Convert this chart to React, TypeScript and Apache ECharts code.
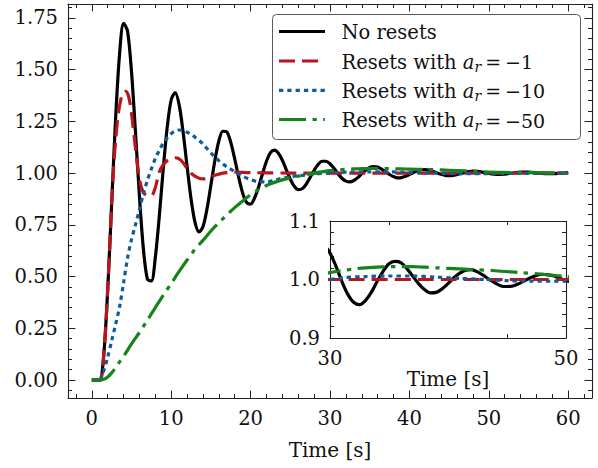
import React, { useEffect, useRef } from 'react';
import * as echarts from 'echarts';

const FONT = "'DejaVu Serif', serif";
const INK = '#111111';
const AXIS = '#222222';
const BLACK = '#000000';
const RED = '#b8161c';
const BLUE = '#0d5c9c';
const GREEN = '#15841a';

// ---------------- data ----------------
const blackT = [0, 0.5, 1, 1.5, 2, 2.5, 3, 3.5, 4, 4.5, 5, 5.5, 6, 6.5, 7, 7.5, 8, 8.5, 9, 9.5, 10, 10.5, 11, 11.5, 12, 12.5, 13, 13.5, 14, 14.5, 15, 15.5, 16, 16.5, 17, 17.5, 18, 18.5, 19, 19.5, 20, 20.5, 21, 21.5, 22, 22.5, 23, 23.5, 24, 24.5, 25, 25.5, 26, 26.5, 27, 27.5, 28, 28.5, 29, 29.5, 30, 30.5, 31, 31.5, 32, 32.5, 33, 33.5, 34, 34.5, 35, 35.5, 36, 36.5, 37, 37.5, 38, 38.5, 39, 39.5, 40, 40.5, 41, 41.5, 42, 42.5, 43, 43.5, 44, 44.5, 45, 45.5, 46, 46.5, 47, 47.5, 48, 48.5, 49, 49.5, 50, 51, 52, 53, 54, 55, 56, 57, 58, 59, 60];
const blackY = [0, 0, 0, 0.12, 0.435, 0.853, 1.266, 1.577, 1.723, 1.685, 1.489, 1.197, 0.886, 0.632, 0.488, 0.479, 0.593, 0.792, 1.021, 1.223, 1.354, 1.389, 1.329, 1.197, 1.032, 0.875, 0.762, 0.716, 0.741, 0.825, 0.942, 1.061, 1.155, 1.202, 1.199, 1.148, 1.068, 0.979, 0.903, 0.858, 0.85, 0.88, 0.932, 0.997, 1.057, 1.099, 1.111, 1.096, 1.062, 1.015, 0.97, 0.936, 0.92, 0.924, 0.946, 0.979, 1.013, 1.041, 1.057, 1.057, 1.045, 1.023, 0.997, 0.975, 0.961, 0.957, 0.964, 0.978, 0.997, 1.014, 1.027, 1.031, 1.029, 1.019, 1.006, 0.993, 0.983, 0.977, 0.978, 0.984, 0.993, 1.003, 1.011, 1.016, 1.017, 1.013, 1.007, 1.0, 0.994, 0.989, 0.988, 0.989, 0.993, 0.998, 1.003, 1.007, 1.009, 1.008, 1.006, 1.002, 0.998, 0.994, 0.995, 1.0, 1.004, 1.004, 1.0, 0.997, 0.997, 0.999, 1.002];

const redT = [0, 1, 1.5, 2, 2.5, 2.75, 3, 3.25, 3.5, 3.75, 4, 4.25, 4.5, 4.75, 5, 5.5, 6, 6.5, 7, 7.5, 8, 8.5, 9, 9.5, 10, 10.5, 11, 11.5, 12, 12.5, 13, 13.5, 14, 14.5, 15, 16, 17, 18, 19, 20, 22, 25, 30, 40, 50, 60];
const redY = [0, 0, 0.12, 0.435, 0.853, 1.03, 1.16, 1.26, 1.325, 1.37, 1.39, 1.395, 1.385, 1.35, 1.29, 1.12, 0.97, 0.905, 0.893, 0.89, 0.93, 1.005, 1.04, 1.06, 1.07, 1.074, 1.068, 1.05, 1.022, 1.0, 0.985, 0.975, 0.972, 0.975, 0.983, 0.995, 1.002, 1.004, 1.003, 1.002, 1.001, 1.0, 1.0, 1.0, 1.0, 1.0];

const blueT = [0, 1, 1.2, 1.5, 2, 2.5, 3, 3.5, 4, 4.5, 5, 5.5, 6, 6.5, 7, 7.5, 8, 8.5, 9, 9.5, 10, 10.5, 11, 11.5, 12, 12.5, 13, 14, 15, 16, 17, 18, 19, 20, 21, 22, 23, 24, 25, 26, 27, 28, 29, 30, 31, 33, 35, 37, 39, 41, 43, 45, 47, 50, 53, 56, 60];
const blueY = [0, 0, 0.015, 0.045, 0.11, 0.19, 0.27, 0.355, 0.47, 0.59, 0.68, 0.75, 0.825, 0.9, 0.965, 1.02, 1.07, 1.11, 1.145, 1.17, 1.19, 1.203, 1.208, 1.205, 1.197, 1.187, 1.173, 1.14, 1.097, 1.06, 1.03, 1.008, 0.985, 0.968, 0.958, 0.957, 0.965, 0.975, 0.982, 0.987, 0.991, 0.995, 0.998, 1.0, 1.003, 1.005, 1.006, 1.006, 1.004, 1.002, 1.0, 0.998, 0.997, 0.997, 0.998, 0.999, 1.0];

const greenT = [0, 1, 1.5, 2, 2.5, 3, 3.5, 4, 5, 6, 7, 8, 9, 10, 11, 12, 13, 14, 15, 16, 17, 18, 19, 20, 21, 22, 23, 24, 25, 26, 27, 28, 29, 30, 31, 32, 33, 34, 35, 36, 37, 38, 39, 40, 42, 44, 46, 48, 50, 52, 55, 58, 60];
const greenY = [0, 0, 0.004, 0.015, 0.035, 0.06, 0.088, 0.115, 0.175, 0.23, 0.29, 0.35, 0.41, 0.467, 0.525, 0.58, 0.632, 0.675, 0.72, 0.76, 0.798, 0.833, 0.865, 0.895, 0.92, 0.94, 0.955, 0.967, 0.977, 0.985, 0.993, 1.0, 1.006, 1.012, 1.015, 1.018, 1.02, 1.021, 1.022, 1.022, 1.022, 1.021, 1.02, 1.019, 1.017, 1.015, 1.012, 1.009, 1.005, 1.003, 1.002, 1.001, 1.0];

const seriesNames = ['No resets', 'Resets with a_r = −1', 'Resets with a_r = −10', 'Resets with a_r = −50'];
const legendRich = [
  'No resets',
  'Resets with {i|a}{s|r}{e|=}{n|−1}',
  'Resets with {i|a}{s|r}{e|=}{n|−10}',
  'Resets with {i|a}{s|r}{e|=}{n|−50}',
];

// tick labels
const xMajorTicks = [0, 10, 20, 30, 40, 50, 60];
const yMajorTicks = [0, 0.25, 0.5, 0.75, 1.0, 1.25, 1.5, 1.75];
const insetXTicks = [30, 50];
const insetYTicks = [0.9, 1.0, 1.1];
const xTitle = 'Time [s]';

const pairs = (t: number[], y: number[]) => t.map((v, i) => [v, y[i]]);
const seriesData = [pairs(blackT, blackY), pairs(redT, redY), pairs(blueT, blueY), pairs(greenT, greenY)];
const lineStyles: any[] = [
  { color: BLACK, type: 'solid' },
  { color: RED, type: [16, 7] },
  { color: BLUE, type: [4.3, 4] },
  { color: GREEN, type: [27, 6.5, 4.3, 6.5] },
];
const LW = 3.2;

function App() {
  const ref = useRef<HTMLDivElement>(null);
  useEffect(() => {
    if (!ref.current) return;
    const chart = echarts.init(ref.current, undefined, { renderer: 'svg' });

    const labelStyle = { fontFamily: FONT, fontSize: 19.5, color: INK };
    const lineAx = { show: true, lineStyle: { color: AXIS, width: 1.1 } };

    const mkX = (grid: number, pos: 'bottom' | 'top', min: number, max: number, step: number, majors: number[], minorSplit: number, majorLen: number, minorLen: number, labels: boolean, extra: any = {}) => ({
      type: 'value', gridIndex: grid, position: pos, min, max, minInterval: step, maxInterval: step,
      axisLine: { ...lineAx, onZero: false },
      axisTick: { show: true, inside: true, length: majorLen, customValues: majors, lineStyle: { color: AXIS, width: 1 } },
      minorTick: { show: true, splitNumber: minorSplit, length: minorLen, lineStyle: { color: AXIS, width: 1 } },
      axisLabel: labels ? { show: true, customValues: majors, margin: 10, ...labelStyle } : { show: false },
      splitLine: { show: false }, minorSplitLine: { show: false },
      ...extra,
    });
    const mkY = (grid: number, pos: 'left' | 'right', min: number, max: number, step: number, majors: number[], minorSplit: number, majorLen: number, minorLen: number, labels: boolean, fmt: (v: number) => string) => ({
      type: 'value', gridIndex: grid, position: pos, min, max, minInterval: step, maxInterval: step,
      axisLine: { ...lineAx, onZero: false },
      axisTick: { show: true, inside: true, length: majorLen, customValues: majors, lineStyle: { color: AXIS, width: 1 } },
      minorTick: { show: true, splitNumber: minorSplit, length: minorLen, lineStyle: { color: AXIS, width: 1 } },
      axisLabel: labels ? { show: true, customValues: majors, margin: 10, formatter: fmt, ...labelStyle } : { show: false },
      splitLine: { show: false }, minorSplitLine: { show: false },
    });

    const yMin = -0.0865, yMax = 1.8165;
    const f2 = (v: number) => v.toFixed(2);
    const f1 = (v: number) => v.toFixed(1);

    const xAxis = [
      mkX(0, 'bottom', -3, 63, 10, xMajorTicks, 5, 7.5, 4, true, {
        name: xTitle, nameLocation: 'middle', nameGap: 42,
        nameTextStyle: { fontFamily: FONT, fontSize: 20, color: INK },
      }),
      mkX(0, 'top', -3, 63, 10, xMajorTicks, 5, 7.5, 4, false),
      mkX(1, 'bottom', 30, 50, 20, insetXTicks, 4, 7.5, 4, true, {
        name: xTitle, nameLocation: 'middle', nameGap: 10,
        nameTextStyle: { fontFamily: FONT, fontSize: 20, color: INK },
      }),
      mkX(1, 'top', 30, 50, 20, insetXTicks, 4, 7.5, 4, false),
    ];
    const yAxis = [
      mkY(0, 'left', yMin, yMax, 0.25, yMajorTicks, 5, 7.5, 4, true, f2),
      mkY(0, 'right', yMin, yMax, 0.25, yMajorTicks, 5, 7.5, 4, false, f2),
      mkY(1, 'left', 0.9, 1.1, 0.1, insetYTicks, 5, 7.5, 4, true, f1),
      mkY(1, 'right', 0.9, 1.1, 0.1, insetYTicks, 5, 7.5, 4, false, f1),
    ];

    const series: any[] = [];
    [0, 1].forEach((g) => {
      seriesData.forEach((d, i) => {
        series.push({
          type: 'line', name: seriesNames[i], xAxisIndex: g * 2, yAxisIndex: g * 2,
          data: d, symbol: 'none', showSymbol: false, smooth: 0.3, clip: true, z: 2 + i,
          lineStyle: { color: lineStyles[i].color, width: LW, type: lineStyles[i].type, cap: 'butt', join: 'round' },
          emphasis: { disabled: true }, silent: true,
        });
      });
    });

    // legend drawn as graphic box
    const rowsY = [31.5, 61, 90.3, 119.5];
    const legendChildren: any[] = [
      { type: 'rect', shape: { x: 272.5, y: 14.5, width: 308, height: 125, r: 4 }, style: { fill: '#ffffff', stroke: '#5a5a5a', lineWidth: 1 } },
    ];
    rowsY.forEach((y, i) => {
      legendChildren.push({
        type: 'line', shape: { x1: 279, y1: y, x2: 325, y2: y },
        style: { stroke: lineStyles[i].color, lineWidth: LW, lineDash: lineStyles[i].type === 'solid' ? null : lineStyles[i].type, lineCap: 'butt' },
      });
      legendChildren.push({
        type: 'text', x: 341.5, y: y + 1,
        style: {
          text: legendRich[i], fontFamily: FONT, fontSize: 19.5, fill: INK, lineHeight: 24,
          verticalAlign: 'middle', align: 'left',
          rich: {
            i: { fontFamily: FONT, fontSize: 19.5, fontStyle: 'italic', fill: INK, lineHeight: 24 },
            s: { fontFamily: FONT, fontSize: 14, fontStyle: 'italic', fill: INK, lineHeight: 14, verticalAlign: 'bottom' },
            e: { fontFamily: FONT, fontSize: 19, fill: INK, lineHeight: 24, padding: [0, 4, 0, 4] },
            n: { fontFamily: FONT, fontSize: 19, fill: INK, lineHeight: 24 },
          },
        },
      });
    });

    chart.setOption({
      animation: false,
      backgroundColor: '#ffffff',
      grid: [
        { left: 68, top: 4, right: 6, bottom: 70, containLabel: false, outerBoundsMode: 'none' },
        { left: 330, top: 221, width: 236, height: 117, containLabel: false, outerBoundsMode: 'none', show: true, backgroundColor: '#ffffff', borderWidth: 0 },
      ],
      xAxis, yAxis, series,
      graphic: [{ type: 'group', z: 100, children: legendChildren }],
    } as any);
    return () => chart.dispose();
  }, []);
  return <div ref={ref} style={{ position: 'fixed', left: 0, top: 0, width: 598, height: 468, background: '#fff' }} />;
}

export default App;
